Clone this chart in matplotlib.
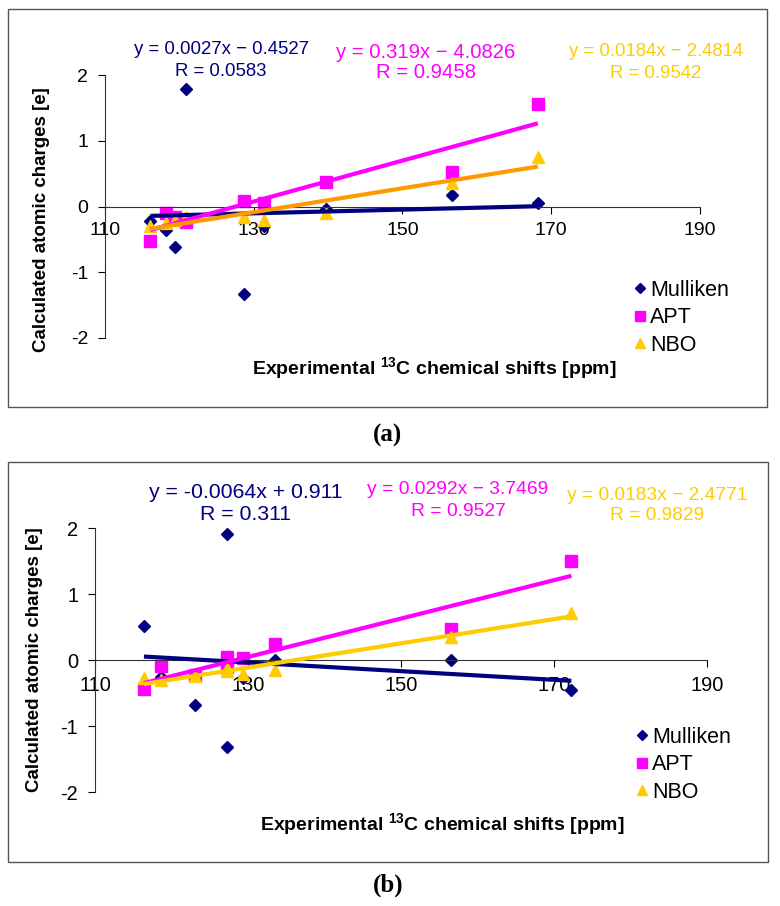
import numpy as np
import matplotlib.pyplot as plt
from matplotlib.patches import Rectangle
from matplotlib.lines import Line2D

plt.rcParams['font.family'] = ['Liberation Sans', 'DejaVu Sans']
plt.rcParams['axes.unicode_minus'] = False
plt.rcParams['mathtext.fontset'] = 'custom'
plt.rcParams['mathtext.rm'] = 'Liberation Sans'
plt.rcParams['mathtext.bf'] = 'Liberation Sans:bold'

# panel (a)
shift_a = [116.1, 118.2, 119.4, 120.9, 128.7, 131.4, 139.7, 156.6, 168.2]
mulliken_a = [-0.22, -0.36, -0.61, 1.79, -1.33, -0.29, -0.03, 0.17, 0.05]
apt_a = [-0.52, -0.09, -0.15, -0.23, 0.08, 0.06, 0.37, 0.52, 1.57]
nbo_a = [-0.30, -0.25, -0.20, -0.15, -0.15, -0.20, -0.09, 0.36, 0.76]
eq_a = ["y = 0.0027x \u2212 0.4527", "y = 0.319x \u2212 4.0826", "y = 0.0184x \u2212 2.4814"]
r_a = ["R = 0.0583", "R = 0.9458", "R = 0.9542"]

# panel (b)
shift_b = [116.4, 118.6, 123.1, 127.2, 127.2, 129.4, 133.5, 156.6, 172.3]
mulliken_b = [0.52, -0.25, -0.68, 1.92, -1.31, -0.27, 0.0, 0.0, -0.45]
apt_b = [-0.44, -0.08, -0.22, 0.05, -0.12, 0.03, 0.25, 0.48, 1.50]
nbo_b = [-0.27, -0.30, -0.24, -0.16, -0.12, -0.20, -0.15, 0.36, 0.72]
eq_b = ["y = -0.0064x + 0.911", "y = 0.0292x \u2212 3.7469", "y = 0.0183x \u2212 2.4771"]
r_b = ["R = 0.311", "R = 0.9527", "R = 0.9829"]

names = ["Mulliken", "APT", "NBO"]
x_ticks = [110, 130, 150, 170, 190]
y_ticks = [-2, -1, 0, 1, 2]

NAVY, MAG, GOLD, ORANGE = "#000080", "#FF00FF", "#FFCC00", "#FF9900"
markers = [("D", 6, NAVY), ("s", 8, MAG), ("^", 8.5, GOLD)]

W, H = 780, 906
fig = plt.figure(figsize=(W / 100, H / 100), dpi=100)


def fx(px):
    return px / W


def fy(py):
    return 1 - py / H


def panel(box, ax_px, shifts, series, eqs, rs, eq_pos, eq_sizes, line_cols,
          tick_fs, xlab_pos, ylab_pos, leg_pos, tag, tag_y):
    x0, y0, x1, y1 = box
    fig.patches.append(Rectangle((fx(x0), fy(y1)), (x1 - x0) / W, (y1 - y0) / H,
                                 transform=fig.transFigure, fill=False,
                                 ec="#555555", lw=1))
    l, t, r, b = ax_px
    ax = fig.add_axes([fx(l), fy(b), (r - l) / W, (b - t) / H])
    ax.set_xlim(110, 190)
    ax.set_ylim(-2, 2)
    for (m, ms, c), ys in zip(markers, series):
        ax.plot(shifts, ys, ls="none", marker=m, ms=ms, color=c, mec=c, zorder=2)
    # linear trendlines over the data range
    for ys, lc in zip(series, line_cols):
        coef = np.polyfit(shifts, ys, 1)
        xs = np.array([min(shifts), max(shifts)])
        ax.plot(xs, np.polyval(coef, xs), color=lc, lw=3, zorder=3,
                solid_capstyle="butt")
    ax.spines["top"].set_visible(False)
    ax.spines["right"].set_visible(False)
    ax.spines["bottom"].set_position(("data", 0))
    ax.spines["bottom"].set_color("#333333")
    ax.spines["left"].set_color("#333333")
    ax.set_xticks(x_ticks)
    ax.set_yticks(y_ticks)
    ax.tick_params(axis="x", direction="out", length=5, pad=6, labelsize=tick_fs)
    ax.tick_params(axis="y", direction="out", length=5, pad=7, labelsize=tick_fs)
    ax.patch.set_alpha(0)

    for (ex, ey), txt, rt, fs, c in zip(eq_pos, eqs, rs, eq_sizes, [NAVY, MAG, GOLD]):
        fig.text(fx(ex), fy(ey), txt, color=c, fontsize=fs, ha="center", va="center")
        fig.text(fx(ex), fy(ey + 21), rt, color=c, fontsize=fs, ha="center", va="center")

    fig.text(fx(xlab_pos[0]), fy(xlab_pos[1]),
             r"Experimental $^{\mathbf{13}}$C chemical shifts [ppm]",
             fontsize=14, fontweight="bold", ha="center", va="center")
    fig.text(fx(ylab_pos[0]), fy(ylab_pos[1]), "Calculated atomic charges [e]",
             fontsize=13.5, fontweight="bold", ha="center", va="center", rotation=90)

    handles = [Line2D([], [], ls="none", marker=m, ms=ms * 0.9, color=c)
               for m, ms, c in markers]
    fig.legend(handles, names, loc="upper left",
               bbox_to_anchor=(fx(leg_pos[0]), fy(leg_pos[1])),
               frameon=False, fontsize=15.5, handlelength=0.6,
               handletextpad=0.15, labelspacing=0.3, borderpad=0)

    fig.text(fx(388), fy(tag_y), "(" + tag + ")", fontsize=18,
             family="Liberation Serif", fontweight="bold", ha="center", va="center")
    return ax


panel((8, 9, 767, 407), (105, 75.3, 700, 338), shift_a,
      [mulliken_a, apt_a, nbo_a], eq_a, r_a,
      [(221, 50), (426, 52), (656, 52)], [13.4, 14.6, 13.4],
      [NAVY, MAG, ORANGE], 14, (434, 369), (42, 220), (623, 269), "a", 435)

panel((8, 462, 768, 862), (95, 528.3, 706.7, 792.3), shift_b,
      [mulliken_b, apt_b, nbo_b], eq_b, r_b,
      [(246, 493), (458, 490), (657, 495)], [15.3, 13.9, 13.8],
      [NAVY, MAG, GOLD], 14.4, (442, 825), (35, 660), (625, 716), "b", 885)

fig.savefig("out.png", dpi=100)
